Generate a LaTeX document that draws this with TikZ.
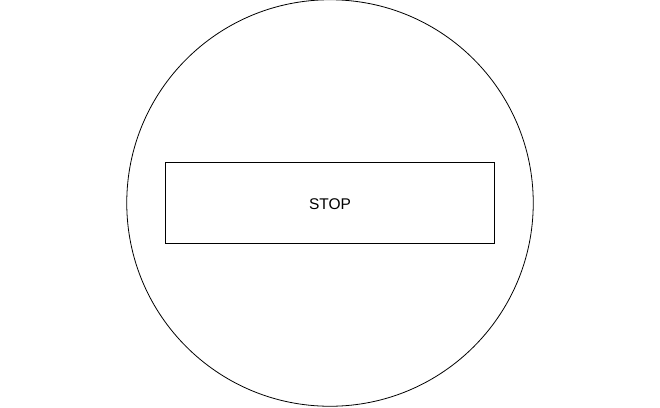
\documentclass[tikz,border=0pt]{standalone}
\usepackage{fontspec}
\setmainfont{Liberation Sans}
\begin{document}
\begin{tikzpicture}[x=1pt,y=-1pt,
  shape line/.style={draw=black,line width=0.8pt},
  label text/.style={font=\fontsize{15.5}{18}\selectfont,inner sep=0pt}]
\useasboundingbox (0,0) rectangle (660,407);
\node[shape line,circle,minimum size=406.5pt,inner sep=0pt] (sign) at (330,203) {};
\node[shape line,rectangle,minimum width=329.5pt,minimum height=80.5pt,inner sep=0pt] (bar) at (330,203) {};
\node[label text] (stop) at (330,204.5) {STOP};
\end{tikzpicture}
\end{document}
